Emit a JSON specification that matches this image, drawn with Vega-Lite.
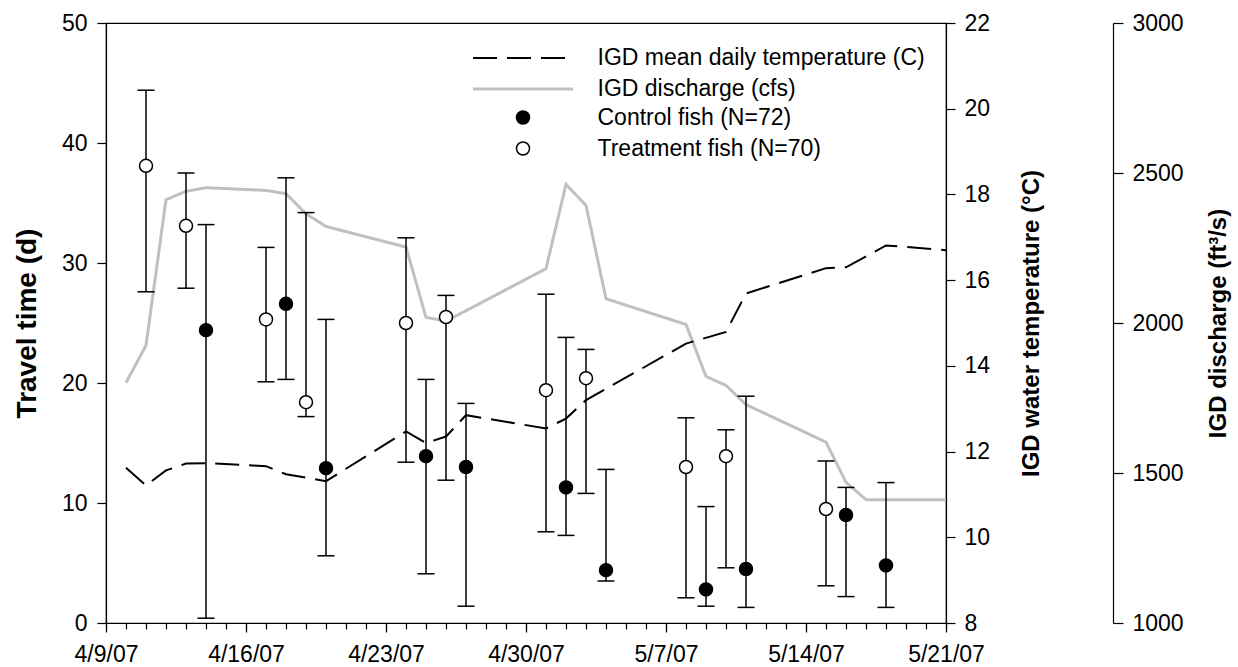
{
  "$schema": "https://vega.github.io/schema/vega-lite/v6.json",
  "width": 840,
  "height": 600,
  "autosize": {"type": "none"},
  "padding": {"left": 106, "top": 23, "right": 292, "bottom": 44},
  "background": "white",
  "config": {
    "view": {"stroke": "black", "strokeWidth": 1.2},
    "font": "Liberation Sans",
    "axis": {
      "grid": false,
      "domainColor": "black",
      "domainWidth": 1.2,
      "tickColor": "black",
      "tickWidth": 1.2,
      "labelColor": "black",
      "titleColor": "black",
      "labelFont": "Liberation Sans",
      "titleFont": "Liberation Sans",
      "labelFontSize": 23,
      "labelFlush": false,
      "labelOverlap": false,
      "labelBound": false
    }
  },
  "datasets": {
    "fish": [
      {"date": "2007-04-11", "group": "Treatment fish (N=70)", "mean": 38.1, "low": 27.6, "high": 44.4},
      {"date": "2007-04-13", "group": "Treatment fish (N=70)", "mean": 33.1, "low": 27.9, "high": 37.5},
      {"date": "2007-04-14", "group": "Control fish (N=72)", "mean": 24.4, "low": 0.4, "high": 33.2},
      {"date": "2007-04-17", "group": "Treatment fish (N=70)", "mean": 25.3, "low": 20.1, "high": 31.3},
      {"date": "2007-04-18", "group": "Control fish (N=72)", "mean": 26.6, "low": 20.3, "high": 37.1},
      {"date": "2007-04-19", "group": "Treatment fish (N=70)", "mean": 18.4, "low": 17.2, "high": 34.2},
      {"date": "2007-04-20", "group": "Control fish (N=72)", "mean": 12.9, "low": 5.6, "high": 25.3},
      {"date": "2007-04-24", "group": "Treatment fish (N=70)", "mean": 25.0, "low": 13.4, "high": 32.1},
      {"date": "2007-04-25", "group": "Control fish (N=72)", "mean": 13.9, "low": 4.1, "high": 20.3},
      {"date": "2007-04-26", "group": "Treatment fish (N=70)", "mean": 25.5, "low": 11.9, "high": 27.3},
      {"date": "2007-04-27", "group": "Control fish (N=72)", "mean": 13.0, "low": 1.4, "high": 18.3},
      {"date": "2007-05-01", "group": "Treatment fish (N=70)", "mean": 19.4, "low": 7.6, "high": 27.4},
      {"date": "2007-05-02", "group": "Control fish (N=72)", "mean": 11.3, "low": 7.3, "high": 23.8},
      {"date": "2007-05-03", "group": "Treatment fish (N=70)", "mean": 20.4, "low": 10.8, "high": 22.8},
      {"date": "2007-05-04", "group": "Control fish (N=72)", "mean": 4.4, "low": 3.5, "high": 12.8},
      {"date": "2007-05-08", "group": "Treatment fish (N=70)", "mean": 13.0, "low": 2.1, "high": 17.1},
      {"date": "2007-05-09", "group": "Control fish (N=72)", "mean": 2.8, "low": 1.4, "high": 9.7},
      {"date": "2007-05-10", "group": "Treatment fish (N=70)", "mean": 13.9, "low": 4.6, "high": 16.1},
      {"date": "2007-05-11", "group": "Control fish (N=72)", "mean": 4.5, "low": 1.3, "high": 18.9},
      {"date": "2007-05-15", "group": "Treatment fish (N=70)", "mean": 9.5, "low": 3.1, "high": 13.5},
      {"date": "2007-05-16", "group": "Control fish (N=72)", "mean": 9.0, "low": 2.2, "high": 11.3},
      {"date": "2007-05-18", "group": "Control fish (N=72)", "mean": 4.8, "low": 1.3, "high": 11.7}
    ],
    "temperature": [
      {"date": "2007-04-10", "series": "IGD mean daily temperature (C)", "temp": 11.62},
      {"date": "2007-04-11", "series": "IGD mean daily temperature (C)", "temp": 11.21},
      {"date": "2007-04-12", "series": "IGD mean daily temperature (C)", "temp": 11.56},
      {"date": "2007-04-13", "series": "IGD mean daily temperature (C)", "temp": 11.72},
      {"date": "2007-04-14", "series": "IGD mean daily temperature (C)", "temp": 11.73},
      {"date": "2007-04-17", "series": "IGD mean daily temperature (C)", "temp": 11.66},
      {"date": "2007-04-18", "series": "IGD mean daily temperature (C)", "temp": 11.47},
      {"date": "2007-04-20", "series": "IGD mean daily temperature (C)", "temp": 11.31},
      {"date": "2007-04-24", "series": "IGD mean daily temperature (C)", "temp": 12.47},
      {"date": "2007-04-25", "series": "IGD mean daily temperature (C)", "temp": 12.2},
      {"date": "2007-04-26", "series": "IGD mean daily temperature (C)", "temp": 12.35},
      {"date": "2007-04-27", "series": "IGD mean daily temperature (C)", "temp": 12.85},
      {"date": "2007-05-01", "series": "IGD mean daily temperature (C)", "temp": 12.54},
      {"date": "2007-05-02", "series": "IGD mean daily temperature (C)", "temp": 12.77},
      {"date": "2007-05-03", "series": "IGD mean daily temperature (C)", "temp": 13.2},
      {"date": "2007-05-08", "series": "IGD mean daily temperature (C)", "temp": 14.52},
      {"date": "2007-05-10", "series": "IGD mean daily temperature (C)", "temp": 14.79},
      {"date": "2007-05-11", "series": "IGD mean daily temperature (C)", "temp": 15.69},
      {"date": "2007-05-15", "series": "IGD mean daily temperature (C)", "temp": 16.28},
      {"date": "2007-05-16", "series": "IGD mean daily temperature (C)", "temp": 16.3},
      {"date": "2007-05-18", "series": "IGD mean daily temperature (C)", "temp": 16.81},
      {"date": "2007-05-21", "series": "IGD mean daily temperature (C)", "temp": 16.7}
    ],
    "discharge": [
      {"date": "2007-04-10", "series": "IGD discharge (cfs)", "cfs": 1801},
      {"date": "2007-04-11", "series": "IGD discharge (cfs)", "cfs": 1925},
      {"date": "2007-04-12", "series": "IGD discharge (cfs)", "cfs": 2411},
      {"date": "2007-04-13", "series": "IGD discharge (cfs)", "cfs": 2439},
      {"date": "2007-04-14", "series": "IGD discharge (cfs)", "cfs": 2451},
      {"date": "2007-04-17", "series": "IGD discharge (cfs)", "cfs": 2442},
      {"date": "2007-04-18", "series": "IGD discharge (cfs)", "cfs": 2431},
      {"date": "2007-04-19", "series": "IGD discharge (cfs)", "cfs": 2364},
      {"date": "2007-04-20", "series": "IGD discharge (cfs)", "cfs": 2322},
      {"date": "2007-04-24", "series": "IGD discharge (cfs)", "cfs": 2253},
      {"date": "2007-04-25", "series": "IGD discharge (cfs)", "cfs": 2019},
      {"date": "2007-04-26", "series": "IGD discharge (cfs)", "cfs": 2006},
      {"date": "2007-05-01", "series": "IGD discharge (cfs)", "cfs": 2181},
      {"date": "2007-05-02", "series": "IGD discharge (cfs)", "cfs": 2462},
      {"date": "2007-05-03", "series": "IGD discharge (cfs)", "cfs": 2392},
      {"date": "2007-05-04", "series": "IGD discharge (cfs)", "cfs": 2081},
      {"date": "2007-05-08", "series": "IGD discharge (cfs)", "cfs": 1995},
      {"date": "2007-05-09", "series": "IGD discharge (cfs)", "cfs": 1822},
      {"date": "2007-05-10", "series": "IGD discharge (cfs)", "cfs": 1792},
      {"date": "2007-05-11", "series": "IGD discharge (cfs)", "cfs": 1728},
      {"date": "2007-05-15", "series": "IGD discharge (cfs)", "cfs": 1603},
      {"date": "2007-05-16", "series": "IGD discharge (cfs)", "cfs": 1469},
      {"date": "2007-05-17", "series": "IGD discharge (cfs)", "cfs": 1411},
      {"date": "2007-05-21", "series": "IGD discharge (cfs)", "cfs": 1411}
    ]
  },
  "resolve": {
    "scale": {"y": "independent"},
    "axis": {"x": "independent", "y": "independent"}
  },
  "layer": [
    {
      "data": {"name": "discharge"},
      "mark": {"type": "line", "strokeWidth": 3, "strokeJoin": "miter"},
      "encoding": {
        "x": {
          "field": "date", "type": "temporal",
          "scale": {"type": "utc", "nice": false, "domain": [{"year": 2007, "month": 4, "date": 9, "utc": true}, {"year": 2007, "month": 5, "date": 21, "utc": true}]},
          "axis": {"orient": "bottom", "tickCount": {"interval": "day", "step": 1}, "tickSize": 6, "labels": false, "domain": false, "title": null}
        },
        "y": {
          "field": "cfs", "type": "quantitative",
          "scale": {"domain": [1000, 3000], "nice": false, "zero": false},
          "axis": {"orient": "right", "offset": 167, "values": [1000, 1500, 2000, 2500, 3000], "format": "d", "tickSize": 10, "labelPadding": 9,
                   "title": "IGD discharge (ft³/s)", "titleFontSize": 24, "titleFontWeight": "bold", "titleAngle": 270, "titleBaseline": "alphabetic", "titleX": 112, "titleY": 300, "titleAlign": "center"}
        },
        "color": {
          "field": "series", "type": "nominal",
          "scale": {"domain": ["IGD mean daily temperature (C)", "IGD discharge (cfs)"], "range": ["black", "#c0c0c0"]},
          "legend": {"title": null, "orient": "none", "legendX": 367, "legendY": 23.5, "symbolType": "M-5,0L5,0", "symbolSize": 400, "symbolStrokeWidth": 2, "symbolOffset": 38.5, "labelOffset": 63, "labelFontSize": 23, "labelFont": "Liberation Sans", "labelColor": "black", "labelLimit": 0, "rowPadding": 7, "padding": 0,
                     "encode": {"symbols": {"update": {"strokeWidth": {"signal": "datum.value === 'IGD discharge (cfs)' ? 3 : 2"}}}}}
        },
        "strokeDash": {
          "field": "series", "type": "nominal",
          "scale": {"domain": ["IGD mean daily temperature (C)", "IGD discharge (cfs)"], "range": [[24, 10], [1, 0]]},
          "legend": {"title": null, "orient": "none", "legendX": 367, "legendY": 23.5, "symbolType": "M-5,0L5,0", "symbolSize": 400, "symbolStrokeWidth": 2, "symbolOffset": 38.5, "labelOffset": 63, "labelFontSize": 23, "labelFont": "Liberation Sans", "labelColor": "black", "labelLimit": 0, "rowPadding": 7, "padding": 0,
                     "encode": {"symbols": {"update": {"strokeWidth": {"signal": "datum.value === 'IGD discharge (cfs)' ? 3 : 2"}}}}}
        }
      }
    },
    {
      "data": {"name": "temperature"},
      "mark": {"type": "line", "strokeWidth": 2},
      "encoding": {
        "x": {
          "field": "date", "type": "temporal",
          "scale": {"type": "utc", "nice": false, "domain": [{"year": 2007, "month": 4, "date": 9, "utc": true}, {"year": 2007, "month": 5, "date": 21, "utc": true}]},
          "axis": {"orient": "bottom", "values": [
            {"year": 2007, "month": 4, "date": 9, "utc": true},
            {"year": 2007, "month": 4, "date": 16, "utc": true},
            {"year": 2007, "month": 4, "date": 23, "utc": true},
            {"year": 2007, "month": 4, "date": 30, "utc": true},
            {"year": 2007, "month": 5, "date": 7, "utc": true},
            {"year": 2007, "month": 5, "date": 14, "utc": true},
            {"year": 2007, "month": 5, "date": 21, "utc": true}],
            "labelExpr": "utcFormat(datum.value, '%-m/%-d/%y')", "tickSize": 9, "labelPadding": 11, "labelDx": -5, "title": null}
        },
        "y": {
          "field": "temp", "type": "quantitative",
          "scale": {"domain": [8, 22], "nice": false, "zero": false},
          "axis": {"orient": "right", "values": [8, 10, 12, 14, 16, 18, 20, 22], "tickSize": 9, "labelPadding": 9,
                   "title": "IGD water temperature (°C)", "titleFontSize": 24, "titleFontWeight": "bold", "titleAngle": 270, "titleBaseline": "alphabetic", "titleX": 92, "titleY": 300, "titleAlign": "center"}
        },
        "color": {
          "field": "series", "type": "nominal",
          "scale": {"domain": ["IGD mean daily temperature (C)", "IGD discharge (cfs)"], "range": ["black", "#c0c0c0"]},
          "legend": {"title": null, "orient": "none", "legendX": 367, "legendY": 23.5, "symbolType": "M-5,0L5,0", "symbolSize": 400, "symbolStrokeWidth": 2, "symbolOffset": 38.5, "labelOffset": 63, "labelFontSize": 23, "labelFont": "Liberation Sans", "labelColor": "black", "labelLimit": 0, "rowPadding": 7, "padding": 0,
                     "encode": {"symbols": {"update": {"strokeWidth": {"signal": "datum.value === 'IGD discharge (cfs)' ? 3 : 2"}}}}}
        },
        "strokeDash": {
          "field": "series", "type": "nominal",
          "scale": {"domain": ["IGD mean daily temperature (C)", "IGD discharge (cfs)"], "range": [[24, 10], [1, 0]]},
          "legend": {"title": null, "orient": "none", "legendX": 367, "legendY": 23.5, "symbolType": "M-5,0L5,0", "symbolSize": 400, "symbolStrokeWidth": 2, "symbolOffset": 38.5, "labelOffset": 63, "labelFontSize": 23, "labelFont": "Liberation Sans", "labelColor": "black", "labelLimit": 0, "rowPadding": 7, "padding": 0,
                     "encode": {"symbols": {"update": {"strokeWidth": {"signal": "datum.value === 'IGD discharge (cfs)' ? 3 : 2"}}}}}
        }
      }
    },
    {
      "data": {"name": "fish"},
      "mark": {"type": "rule", "color": "black", "strokeWidth": 1.5},
      "encoding": {
        "x": {"field": "date", "type": "temporal", "axis": null},
        "y": {
          "field": "low", "type": "quantitative",
          "scale": {"domain": [0, 50], "nice": false},
          "axis": {"orient": "left", "values": [0, 10, 20, 30, 40, 50], "tickSize": 9, "labelPadding": 10,
                   "title": "Travel time (d)", "titleFontSize": 28, "titleFontWeight": "bold", "titleAngle": 270, "titleBaseline": "alphabetic", "titleX": -71, "titleY": 300, "titleAlign": "center"}
        },
        "y2": {"field": "high"}
      }
    },
    {
      "data": {"name": "fish"},
      "mark": {"type": "tick", "orient": "horizontal", "color": "black", "size": 17, "thickness": 1.5, "opacity": 1},
      "encoding": {
        "x": {"field": "date", "type": "temporal", "axis": null},
        "y": {"field": "low", "type": "quantitative", "scale": {"domain": [0, 50], "nice": false}, "axis": null}
      }
    },
    {
      "data": {"name": "fish"},
      "mark": {"type": "tick", "orient": "horizontal", "color": "black", "size": 17, "thickness": 1.5, "opacity": 1},
      "encoding": {
        "x": {"field": "date", "type": "temporal", "axis": null},
        "y": {"field": "high", "type": "quantitative", "scale": {"domain": [0, 50], "nice": false}, "axis": null}
      }
    },
    {
      "data": {"name": "fish"},
      "mark": {"type": "circle", "size": 169, "stroke": "black", "strokeWidth": 1.5, "opacity": 1},
      "encoding": {
        "x": {"field": "date", "type": "temporal", "axis": null},
        "y": {"field": "mean", "type": "quantitative", "scale": {"domain": [0, 50], "nice": false}, "axis": null},
        "fill": {
          "field": "group", "type": "nominal",
          "scale": {"domain": ["Control fish (N=72)", "Treatment fish (N=70)"], "range": ["black", "white"]},
          "legend": {"title": null, "orient": "none", "legendX": 367, "legendY": 83, "symbolType": "circle", "symbolSize": 169, "symbolStrokeColor": "black", "symbolStrokeWidth": 1.5, "symbolOffset": 38.5, "labelOffset": 63, "labelFontSize": 23, "labelFont": "Liberation Sans", "labelColor": "black", "labelLimit": 0, "rowPadding": 7, "padding": 0,
                     "encode": {"symbols": {"update": {"stroke": {"value": "black"}, "fillOpacity": {"value": 1}, "opacity": {"value": 1}}}}}
        }
      }
    }
  ]
}
